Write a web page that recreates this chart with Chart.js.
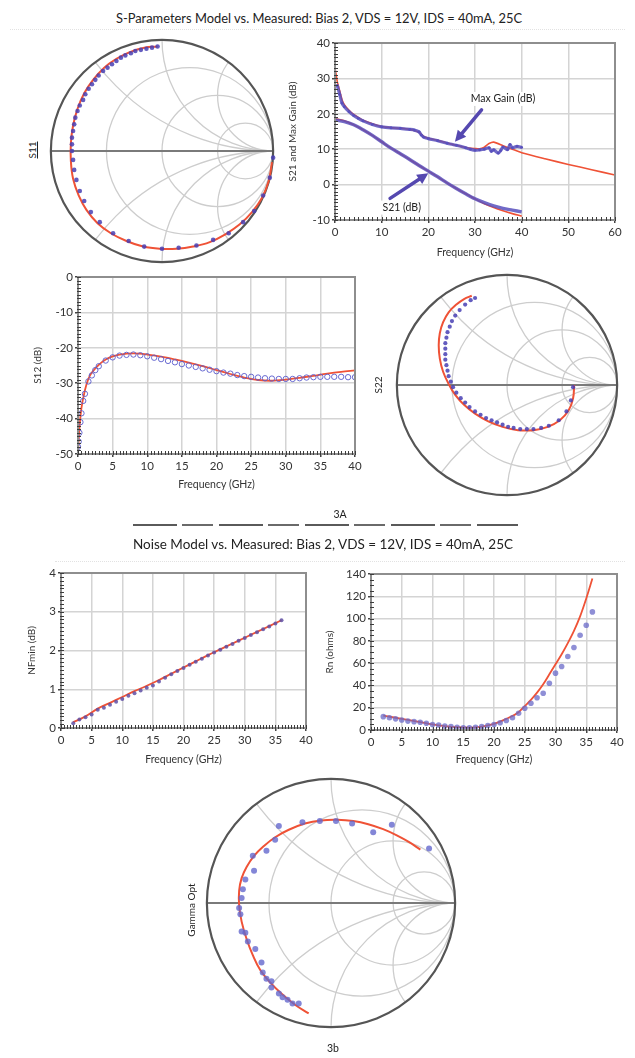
<!DOCTYPE html>
<html lang="en">
<head>
<meta charset="utf-8">
<title>Model vs. Measured</title>
<script src="https://cdn.jsdelivr.net/npm/chart.js@4.4.1/dist/chart.umd.min.js"></script>
<style>
  html, body { margin: 0; padding: 0; background: #fff; }
  #page { position: relative; width: 635px; height: 1058px; overflow: hidden;
          font-family: Lato, "Noto Sans", sans-serif; color: #222; }
  #page canvas { position: absolute; }
  .txt { position: absolute; white-space: nowrap; line-height: 1; transform: translate(-50%, -50%); }
  .rot { transform: translate(-50%, -50%) rotate(-90deg); }
  .title { font-size: 13.5px; }
  .fig { font-size: 10.5px; }
  .lbl { font-size: 10px; }
  .dots { position: absolute; height: 1px; border-top: 1px dotted #e2e2e2; }
  .scrap { position: absolute; height: 2px;
           background: repeating-linear-gradient(90deg, #5a5a5a 0 44px, transparent 44px 49px, #6a6a6a 49px 80px, transparent 80px 86px); }
</style>
</head>
<body>
<div id="page">
  <div class="txt title" style="left:319px; top:18px; font-size:12.9px">S-Parameters Model vs. Measured: Bias 2, VDS = 12V, IDS = 40mA, 25C</div>
  <div class="dots" style="left:10px; width:615px; top:29px"></div>

  <canvas id="s11"></canvas>
  <canvas id="s21" width="348" height="232" style="left:282px; top:33px"></canvas>
  <canvas id="s12" width="340" height="230" style="left:27px; top:267px"></canvas>
  <canvas id="s22"></canvas>

  <div class="txt lbl rot" style="left:32px; top:150px; text-decoration:underline">S11</div>
  <div class="txt lbl rot" style="left:378px; top:385px">S22</div>

  <div class="txt fig" style="left:340px; top:514px">3A</div>
  <div class="scrap" style="left:133px; width:385px; top:524px"></div>
  <div class="txt title" style="left:323px; top:545px">Noise Model vs. Measured: Bias 2, VDS = 12V, IDS = 40mA, 25C</div>
  <div class="dots" style="left:55px; width:570px; top:561px"></div>

  <canvas id="nf" width="297" height="209" style="left:21px; top:563px"></canvas>
  <canvas id="rn" width="310" height="208" style="left:319px; top:564px"></canvas>
  <canvas id="gopt"></canvas>

  <div class="txt lbl rot" style="left:191px; top:910px">Gamma Opt</div>
  <div class="txt fig" style="left:333px; top:1048px">3b</div>
</div>

<script>
"use strict";

// ─── Palette ───────────────────────────────────────────────
const RED    = "#ef5236";
const BLUE   = "#5850bd";
const GRID   = "#d4d4d4";

// ─── Data: S21 / Max Gain (GHz, dB) ───────────────────────
const GAIN_MODEL_F = [0, 0.25, 0.5, 1, 1.5, 2, 3, 4, 5, 6, 8, 10, 12, 14, 16, 17, 18, 19, 20, 22, 24, 26, 28, 30, 31, 32, 33, 34, 36, 38, 40, 45, 50, 55, 60];
const GAIN_MODEL   = [33, 31, 29, 26.5, 24, 22.6, 21, 19.8, 19, 18.2, 17.2, 16.4, 16.1, 15.9, 15.6, 15.3, 14.8, 13.6, 13.1, 12.5, 11.8, 11.1, 10.5, 10.2, 10.1, 10.6, 11.6, 12.0, 11.0, 10.0, 9.0, 7.3, 5.7, 4.2, 2.7];
const GAIN_MEAS_F  = [0.5, 1, 1.5, 2, 3, 4, 5, 6, 8, 10, 12, 14, 16, 17, 18, 18.5, 19, 20, 22, 24, 26, 28, 29, 30, 31, 32, 33, 33.5, 34, 35, 35.5, 36, 37, 37.5, 38, 39, 40];
const GAIN_MEAS    = [28, 25.5, 23, 22, 20.6, 19.5, 18.7, 18, 17, 16.3, 16.0, 15.9, 15.6, 15.4, 14.9, 14.0, 13.4, 13.0, 12.4, 11.7, 11.1, 10.4, 10.0, 9.7, 9.8, 10.0, 10.4, 9.4, 9.8, 8.9, 9.6, 10.6, 9.9, 11.3, 10.4, 10.8, 10.5];
const S21_F        = [0, 2, 4, 6, 8, 10, 12, 14, 16, 18, 20, 22, 24, 26, 28, 30, 32, 34, 36, 38, 40];
const S21_MODEL    = [18.6, 18.0, 16.9, 15.5, 13.9, 12.1, 10.3, 8.7, 7.1, 5.4, 3.8, 2.2, 0.5, -1.1, -2.6, -4.0, -5.4, -6.5, -7.4, -8.2, -8.9];
const S21_MEAS     = [18.3, 17.8, 16.9, 15.5, 13.9, 12.1, 10.3, 8.7, 7.1, 5.4, 3.8, 2.2, 0.5, -1.1, -2.6, -4.0, -5.1, -6.0, -6.7, -7.2, -7.7];

// ─── Data: S12 (GHz, dB) ──────────────────────────────────
const S12_MEAS_F  = [0, 0.1, 0.2, 0.35, 0.5, 0.75, 1, 1.5, 2, 2.5, 3, 4, 5, 6, 7, 8, 9, 10, 11, 12, 13, 14, 15, 16, 17, 18, 19, 20, 21, 22, 23, 24, 25, 26, 27, 28, 29, 30, 31, 32, 33, 34, 35, 36, 37, 38, 39, 40];
const S12_MEAS    = [-48, -46.5, -44, -41, -38.5, -35, -33, -29.5, -27.8, -26.3, -25.2, -23.6, -22.7, -22.2, -22.0, -21.9, -22.1, -22.4, -22.8, -23.2, -23.7, -24.1, -24.6, -25.0, -25.4, -25.8, -26.2, -26.6, -27.0, -27.3, -27.7, -28.0, -28.2, -28.4, -28.6, -28.7, -28.8, -28.8, -28.8, -28.6, -28.4, -28.3, -28.2, -28.2, -28.2, -28.2, -28.3, -28.3];
const S12_MODEL_F = [0, 0.2, 0.5, 1, 1.5, 2, 3, 4, 5, 6, 8, 10, 12, 14, 16, 18, 20, 22, 24, 26, 28, 30, 32, 34, 36, 38, 40];
const S12_MODEL   = [-50, -43, -37, -32, -28.8, -27, -24.8, -23.3, -22.4, -21.9, -21.6, -21.9, -22.5, -23.3, -24.2, -25.2, -26.3, -27.4, -28.4, -29.1, -29.3, -29.0, -28.5, -27.9, -27.3, -26.8, -26.4];

// ─── Data: noise parameters (GHz) ─────────────────────────
const NOISE_F     = [2, 3, 4, 5, 6, 7, 8, 9, 10, 11, 12, 13, 14, 15, 16, 17, 18, 19, 20, 21, 22, 23, 24, 25, 26, 27, 28, 29, 30, 31, 32, 33, 34, 35, 36];
const NF_MEAS     = [0.12, 0.22, 0.28, 0.35, 0.47, 0.52, 0.6, 0.68, 0.75, 0.83, 0.9, 0.97, 1.04, 1.1, 1.2, 1.3, 1.39, 1.47, 1.55, 1.63, 1.71, 1.79, 1.87, 1.95, 2.02, 2.1, 2.17, 2.25, 2.32, 2.4, 2.47, 2.55, 2.62, 2.7, 2.78];
const NF_MODEL_F  = [2, 4, 6, 8, 10, 12, 14, 16, 18, 20, 22, 24, 26, 28, 30, 32, 34, 36];
const NF_MODEL    = [0.15, 0.3, 0.5, 0.65, 0.8, 0.95, 1.09, 1.24, 1.4, 1.56, 1.72, 1.88, 2.03, 2.18, 2.33, 2.48, 2.63, 2.78];
const RN_MEAS     = [12, 11, 10, 9, 8, 7.5, 7, 6, 5, 4.5, 3.5, 3, 2.5, 2, 2, 2.5, 3, 4, 5, 6.5, 8.5, 11, 15, 19.5, 24, 29, 33, 42, 51, 57, 66, 74, 85, 94, 106];
const RN_MODEL_F  = [2, 4, 6, 8, 10, 12, 14, 16, 18, 20, 22, 24, 25, 26, 27, 28, 29, 30, 31, 32, 33, 34, 35, 36];
const RN_MODEL    = [13, 11, 9, 7, 5, 3.5, 2.5, 2.2, 3, 5.5, 10, 16, 21.5, 27, 33.5, 41, 50, 59, 68, 78, 89, 102, 118, 136];

// ─── Data: reflection coefficients (real, imag) ───────────
const S11_MODEL_RE = [0.99, 0.96, 0.90, 0.81, 0.70, 0.57, 0.43, 0.28, 0.13, -0.02, -0.17, -0.32, -0.46, -0.58, -0.68, -0.75, -0.80, -0.82, -0.82, -0.80, -0.76, -0.70, -0.62, -0.52, -0.41, -0.29, -0.16, -0.04];
const S11_MODEL_IM = [-0.10, -0.27, -0.42, -0.55, -0.66, -0.75, -0.82, -0.86, -0.88, -0.88, -0.86, -0.81, -0.74, -0.65, -0.53, -0.40, -0.25, -0.09, 0.07, 0.23, 0.38, 0.52, 0.64, 0.75, 0.83, 0.89, 0.93, 0.94];
const S11_MEAS_RE  = [1.0, 0.97, 0.91, 0.83, 0.73, 0.60, 0.46, 0.31, 0.15, 0.0, -0.16, -0.30, -0.44, -0.56, -0.64, -0.70, -0.74, -0.77, -0.79, -0.80, -0.81, -0.81, -0.81, -0.80, -0.79, -0.78, -0.76, -0.74, -0.71, -0.69, -0.66, -0.63, -0.60, -0.57, -0.53, -0.49, -0.45, -0.41, -0.37, -0.33, -0.28, -0.24, -0.19, -0.14, -0.09, -0.04];
const S11_MEAS_IM  = [-0.06, -0.24, -0.40, -0.54, -0.64, -0.74, -0.80, -0.85, -0.87, -0.88, -0.86, -0.81, -0.74, -0.64, -0.55, -0.45, -0.36, -0.26, -0.17, -0.08, 0.0, 0.06, 0.12, 0.18, 0.24, 0.30, 0.36, 0.41, 0.46, 0.51, 0.56, 0.60, 0.64, 0.68, 0.72, 0.75, 0.78, 0.81, 0.84, 0.86, 0.88, 0.90, 0.91, 0.92, 0.93, 0.94];

const S22_MODEL_RE = [0.61, 0.60, 0.56, 0.48, 0.37, 0.24, 0.10, -0.04, -0.17, -0.29, -0.39, -0.47, -0.53, -0.58, -0.61, -0.62, -0.61, -0.58, -0.53, -0.46, -0.39, -0.32];
const S22_MODEL_IM = [0.0, -0.12, -0.23, -0.32, -0.38, -0.41, -0.41, -0.38, -0.33, -0.26, -0.18, -0.09, 0.01, 0.12, 0.24, 0.36, 0.47, 0.57, 0.66, 0.73, 0.78, 0.81];
const S22_MEAS_RE  = [0.60, 0.58, 0.54, 0.47, 0.38, 0.31, 0.24, 0.18, 0.12, 0.06, 0.01, -0.04, -0.09, -0.14, -0.19, -0.24, -0.29, -0.34, -0.38, -0.42, -0.46, -0.49, -0.51, -0.53, -0.54, -0.55, -0.56, -0.56, -0.56, -0.56, -0.55, -0.54, -0.52, -0.50, -0.47, -0.43, -0.38, -0.33, -0.29];
const S22_MEAS_IM  = [-0.02, -0.14, -0.24, -0.32, -0.37, -0.39, -0.40, -0.40, -0.40, -0.39, -0.38, -0.36, -0.34, -0.32, -0.30, -0.27, -0.24, -0.20, -0.16, -0.12, -0.07, -0.02, 0.03, 0.08, 0.13, 0.18, 0.23, 0.28, 0.33, 0.38, 0.43, 0.48, 0.53, 0.58, 0.63, 0.68, 0.73, 0.77, 0.79];

const GOPT_MODEL_RE = [-0.18, -0.29, -0.40, -0.49, -0.57, -0.63, -0.68, -0.72, -0.74, -0.74, -0.72, -0.68, -0.62, -0.54, -0.45, -0.34, -0.21, -0.08, 0.05, 0.18, 0.30, 0.42, 0.53, 0.63, 0.72];
const GOPT_MODEL_IM = [-0.89, -0.82, -0.73, -0.64, -0.54, -0.42, -0.29, -0.15, -0.02, 0.10, 0.20, 0.29, 0.38, 0.46, 0.53, 0.59, 0.64, 0.665, 0.67, 0.66, 0.635, 0.595, 0.545, 0.49, 0.43];
const GOPT_MEAS_RE  = [-0.26, -0.31, -0.35, -0.39, -0.42, -0.48, -0.48, -0.52, -0.55, -0.56, -0.61, -0.67, -0.69, -0.72, -0.73, -0.74, -0.72, -0.71, -0.69, -0.62, -0.63, -0.52, -0.45, -0.42, -0.23, -0.09, 0.04, 0.17, 0.34, 0.49, 0.79];
const GOPT_MEAS_IM  = [-0.81, -0.81, -0.78, -0.76, -0.73, -0.68, -0.63, -0.61, -0.56, -0.48, -0.37, -0.31, -0.24, -0.23, -0.09, -0.04, 0.04, 0.11, 0.19, 0.26, 0.38, 0.42, 0.51, 0.62, 0.65, 0.66, 0.66, 0.64, 0.57, 0.63, 0.44];

// Smith grid: constant-resistance circles and reactance arcs
const SMITH_R = [1 / 3, 1, 3];
const SMITH_X = [0.5, 1, 2];

// ─── Chart.js defaults ────────────────────────────────────
Chart.defaults.font.family = "Lato, 'Noto Sans', sans-serif";
Chart.defaults.color = "#333";

const pts = (xs, ys) => xs.map((v, i) => ({ x: v, y: ys[i] }));

// Plot frame with the dense ruler ticks along left/bottom edges
const plotFrame = {
  id: "plotFrame",
  afterDatasetsDraw(chart, args, opts) {
    const { ctx, chartArea: a, scales: { x, y } } = chart;
    ctx.save();
    ctx.strokeStyle = "#8e8e8e";
    ctx.lineWidth = 2;
    ctx.strokeRect(a.left, a.top, a.right - a.left, a.bottom - a.top);
    ctx.strokeStyle = "#3c3c3c";
    ctx.lineWidth = 1;
    ctx.beginPath();
    for (let v = y.min; v <= y.max + 1e-9; v += opts.minorY) {
      const py = Math.round(y.getPixelForValue(v)) + 0.5;
      ctx.moveTo(a.left - 1, py); ctx.lineTo(a.left + 3, py);
    }
    for (let v = x.min; v <= x.max + 1e-9; v += opts.minorX) {
      const px = Math.round(x.getPixelForValue(v)) + 0.5;
      ctx.moveTo(px, a.bottom + 1); ctx.lineTo(px, a.bottom - 3);
    }
    ctx.stroke();
    ctx.restore();
  },
};

// Arrows + boxed labels on the gain plot
const gainNotes = {
  id: "gainNotes",
  afterDatasetsDraw(chart, args, opts) {
    const { ctx, scales: { x, y } } = chart;
    ctx.save();
    ctx.font = "10.5px Lato, 'Noto Sans', sans-serif";
    ctx.textAlign = "center";
    ctx.textBaseline = "middle";
    opts.labels.forEach(l => {
      const px = x.getPixelForValue(l.at[0]), py = y.getPixelForValue(l.at[1]);
      const w = ctx.measureText(l.text).width + l.pad;
      ctx.fillStyle = "#fff";
      ctx.fillRect(px - w / 2, py - 7, w, 14);
      ctx.fillStyle = "#222";
      ctx.fillText(l.text, px, py);
    });
    opts.arrows.forEach(ar => {
      const x0 = x.getPixelForValue(ar.from[0]), y0 = y.getPixelForValue(ar.from[1]);
      const x1 = x.getPixelForValue(ar.to[0]),   y1 = y.getPixelForValue(ar.to[1]);
      const ang = Math.atan2(y1 - y0, x1 - x0);
      const bx = x1 - 11 * Math.cos(ang), by = y1 - 11 * Math.sin(ang);
      ctx.strokeStyle = ctx.fillStyle = "#5548b0";
      ctx.lineWidth = 3.5;
      ctx.lineCap = "round";
      ctx.beginPath(); ctx.moveTo(x0, y0); ctx.lineTo(bx, by); ctx.stroke();
      ctx.beginPath();
      ctx.moveTo(x1, y1);
      ctx.lineTo(bx + 5.5 * Math.sin(ang), by - 5.5 * Math.cos(ang));
      ctx.lineTo(bx - 5.5 * Math.sin(ang), by + 5.5 * Math.cos(ang));
      ctx.closePath(); ctx.fill();
    });
    ctx.restore();
  },
};

// Smith chart background grid
const smithGrid = {
  id: "smithGrid",
  beforeDatasetsDraw(chart) {
    const { ctx, scales: { x, y } } = chart;
    const cx = x.getPixelForValue(0), cy = y.getPixelForValue(0);
    const R = x.getPixelForValue(1) - cx;
    ctx.save();
    ctx.beginPath(); ctx.arc(cx, cy, R, 0, Math.PI * 2); ctx.clip();
    ctx.strokeStyle = "#cdcdcd";
    ctx.lineWidth = 1.3;
    SMITH_R.forEach(r => {
      ctx.beginPath();
      ctx.arc(cx + R * r / (1 + r), cy, R / (1 + r), 0, Math.PI * 2);
      ctx.stroke();
    });
    SMITH_X.forEach(xv => [1, -1].forEach(s => {
      ctx.beginPath();
      ctx.arc(cx + R, cy - s * R / xv, R / xv, 0, Math.PI * 2);
      ctx.stroke();
    }));
    ctx.restore();
    ctx.save();
    ctx.strokeStyle = "#7a7a7a";
    ctx.lineWidth = 2;
    ctx.beginPath(); ctx.moveTo(cx - R, cy); ctx.lineTo(cx + R, cy); ctx.stroke();
    ctx.strokeStyle = "#555";
    ctx.lineWidth = 2.2;
    ctx.beginPath(); ctx.arc(cx, cy, R, 0, Math.PI * 2); ctx.stroke();
    ctx.restore();
  },
};

// ─── Cartesian plot builder ───────────────────────────────
function buildPlot(id, cfg) {
  new Chart(document.getElementById(id), {
    type: "scatter",
    data: { datasets: cfg.datasets },
    options: {
      responsive: false,
      animation: false,
      layout: { padding: { top: 10, right: cfg.padRight, left: 0, bottom: 0 } },
      scales: {
        x: {
          type: "linear", min: cfg.x[0], max: cfg.x[1],
          afterFit: s => { s.height = cfg.xH; },
          ticks: { stepSize: cfg.x[2], autoSkip: false, maxRotation: 0, padding: 2, font: { size: 11.5 } },
          grid: { color: GRID, lineWidth: 1.5, tickLength: 3, tickColor: "#444" },
          border: { display: false },
          title: { display: true, text: "Frequency (GHz)", font: { size: 10.5 }, padding: { top: 0, bottom: 6 } },
        },
        y: {
          type: "linear", min: cfg.y[0], max: cfg.y[1],
          afterFit: s => { s.width = cfg.yW; },
          ticks: { stepSize: cfg.y[2], autoSkip: false, padding: 2, font: { size: 11.5 } },
          grid: { color: GRID, lineWidth: 1.5, tickLength: 3, tickColor: "#444" },
          border: { display: false },
          title: { display: true, text: cfg.yTitle, font: { size: 10 }, padding: { top: 5, bottom: 0 } },
        },
      },
      plugins: {
        legend: { display: false },
        tooltip: { enabled: false },
        plotFrame: { minorX: cfg.minor[0], minorY: cfg.minor[1] },
        gainNotes: cfg.notes || {},
      },
    },
    plugins: [plotFrame].concat(cfg.extra || []),
  });
}

// ─── Smith chart builder ──────────────────────────────────
function buildSmith(id, cx, cy, R, model, meas, dot) {
  const canvas = document.getElementById(id);
  const half = R + 4;
  canvas.width = canvas.height = 2 * half;
  canvas.style.left = (cx - half) + "px";
  canvas.style.top = (cy - half) + "px";
  const m = half / R;
  new Chart(canvas, {
    type: "scatter",
    data: {
      datasets: [
        { data: meas, pointRadius: dot.r, backgroundColor: dot.color, borderWidth: 0 },
        { data: model, showLine: true, pointRadius: 0, borderColor: RED, borderWidth: 2, tension: 0.4 },
      ],
    },
    options: {
      responsive: false,
      animation: false,
      layout: { padding: 0 },
      scales: {
        x: { type: "linear", display: false, min: -m, max: m },
        y: { type: "linear", display: false, min: -m, max: m },
      },
      plugins: { legend: { display: false }, tooltip: { enabled: false } },
    },
    plugins: [smithGrid],
  });
}

// ─── 1. S11 ───────────────────────────────────────────────
buildSmith("s11", 161.5, 151, 115,
  pts(S11_MODEL_RE, S11_MODEL_IM), pts(S11_MEAS_RE, S11_MEAS_IM),
  { r: 2.3, color: "rgba(72,64,180,0.85)" });

// ─── 2. S21 and Max Gain ──────────────────────────────────
buildPlot("s21", {
  x: [0, 60, 10], y: [-10, 40, 10], yW: 53, xH: 45, padRight: 15,
  minor: [1, 1], yTitle: "S21 and Max Gain (dB)",
  datasets: [
    { data: pts(GAIN_MEAS_F, GAIN_MEAS), showLine: true, pointRadius: 1.4, pointBackgroundColor: BLUE, pointBorderWidth: 0,
      borderColor: "rgba(88,80,189,0.85)", borderWidth: 3.2, tension: 0.25 },
    { data: pts(S21_F, S21_MEAS), showLine: true, pointRadius: 0, borderColor: "rgba(88,80,189,0.85)", borderWidth: 3.4, tension: 0.3 },
    { data: pts(GAIN_MODEL_F, GAIN_MODEL), showLine: true, pointRadius: 0, borderColor: RED, borderWidth: 1.6, tension: 0.2 },
    { data: pts(S21_F, S21_MODEL), showLine: true, pointRadius: 0, borderColor: RED, borderWidth: 1.6, tension: 0.3 },
  ],
  notes: {
    labels: [
      { text: "Max Gain (dB)", at: [36, 24.2], pad: 18 },
      { text: "S21 (dB)", at: [14.3, -6.5], pad: 8 },
    ],
    arrows: [
      { from: [31.4, 21.1], to: [25.7, 12.1] },
      { from: [11.8, -3.9], to: [20.0, 3.2] },
    ],
  },
  extra: [gainNotes],
});

// ─── 3. S12 ───────────────────────────────────────────────
buildPlot("s12", {
  x: [0, 40, 5], y: [-50, 0, 10], yW: 51, xH: 43, padRight: 12,
  minor: [0.5, 1], yTitle: "S12 (dB)",
  datasets: [
    { data: pts(S12_MEAS_F, S12_MEAS), pointRadius: 2.7, pointBackgroundColor: "rgba(255,255,255,0)",
      pointBorderColor: "rgba(90,92,205,0.9)", pointBorderWidth: 1 },
    { data: pts(S12_MODEL_F, S12_MODEL), showLine: true, pointRadius: 0, borderColor: RED, borderWidth: 1.8, tension: 0.35 },
  ],
});

// ─── 4. S22 ───────────────────────────────────────────────
buildSmith("s22", 507, 385, 114,
  pts(S22_MODEL_RE, S22_MODEL_IM), pts(S22_MEAS_RE, S22_MEAS_IM),
  { r: 2.1, color: "rgba(72,64,180,0.85)" });

// ─── 5. NFmin ─────────────────────────────────────────────
buildPlot("nf", {
  x: [0, 40, 5], y: [0, 4, 1], yW: 40, xH: 44, padRight: 12,
  minor: [0.5, 0.1], yTitle: "NFmin (dB)",
  datasets: [
    { data: pts(NOISE_F, NF_MEAS), pointRadius: 2, pointBackgroundColor: "rgba(95,80,165,0.85)", pointBorderWidth: 0 },
    { data: pts(NF_MODEL_F, NF_MODEL), showLine: true, pointRadius: 0, borderColor: RED, borderWidth: 1.8, cubicInterpolationMode: "monotone" },
  ],
});

// ─── 6. Rn ────────────────────────────────────────────────
buildPlot("rn", {
  x: [0, 40, 5], y: [0, 140, 20], yW: 52, xH: 42, padRight: 12,
  minor: [0.5, 5], yTitle: "Rn (ohms)",
  datasets: [
    { data: pts(NOISE_F, RN_MEAS), pointRadius: 2.8, pointBackgroundColor: "rgba(105,105,200,0.75)", pointBorderWidth: 0 },
    { data: pts(RN_MODEL_F, RN_MODEL), showLine: true, pointRadius: 0, borderColor: RED, borderWidth: 1.8, cubicInterpolationMode: "monotone" },
  ],
});

// ─── 7. Gamma Opt ─────────────────────────────────────────
buildSmith("gopt", 331, 903, 128,
  pts(GOPT_MODEL_RE, GOPT_MODEL_IM), pts(GOPT_MEAS_RE, GOPT_MEAS_IM),
  { r: 3, color: "rgba(100,104,205,0.8)" });
</script>
</body>
</html>
